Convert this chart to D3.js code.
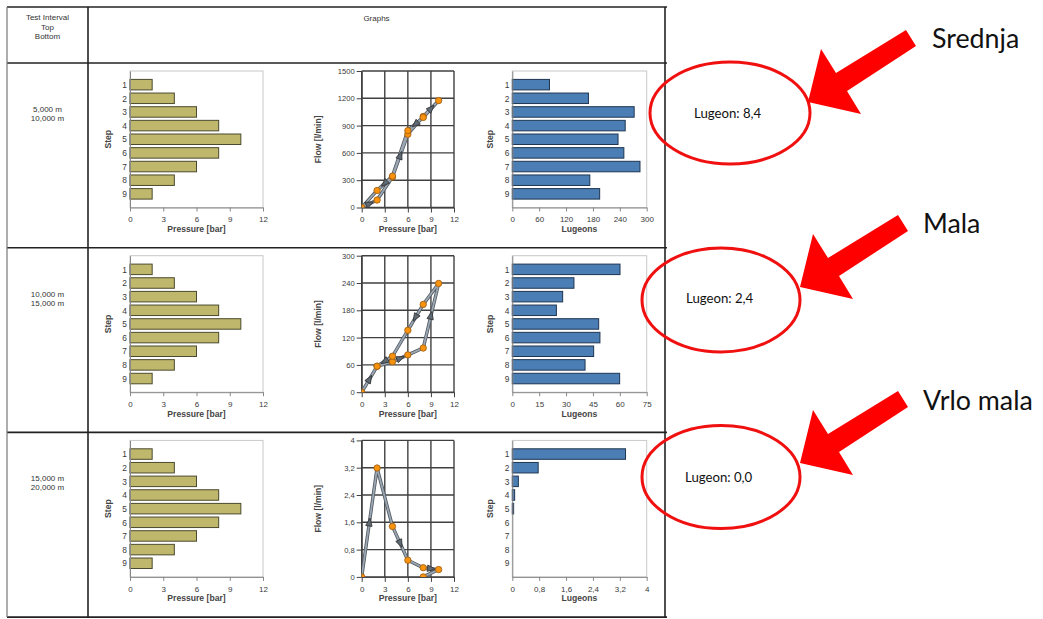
<!DOCTYPE html>
<html>
<head>
<meta charset="utf-8">
<script src="https://cdn.jsdelivr.net/npm/d3@7"></script>
<style>
  body { margin: 0; background: #fff; }
  svg { display: block; }
</style>
</head>
<body>
<script>
// ---- data ----
const steps = [1, 2, 3, 4, 5, 6, 7, 8, 9];
const pressure = [2, 4, 6, 8, 10, 8, 6, 4, 2];           // bar, per step
const pressureTicks = [0, 3, 6, 9, 12];

const headerLines = ["Test Interval", "Top", "Bottom"];
const headerGraphs = "Graphs";
const intervalTop = ["5,000 m", "10,000 m", "15,000 m"];
const intervalBottom = ["10,000 m", "15,000 m", "20,000 m"];

// flow [l/min] per step (null = step not run)
const flowA = [82, 335, 805, 1000, 1175, 990, 845, 345, 187];
const flowB = [57, 67, 82, 97, 239, 193, 136, 79, 57];
const flowC = [3.19, 1.48, 0.49, 0.27, 0.215, 0, null, null, null];
const flowTicksA = [0, 300, 600, 900, 1200, 1500];
const flowTicksB = [0, 60, 120, 180, 240, 300];
const flowTicksC = [0, 0.8, 1.6, 2.4, 3.2, 4];

// Lugeon value per step
const lugeonA = [83, 170, 272, 252, 236, 249, 285, 173, 195];
const lugeonB = [60.1, 34.4, 28.1, 24.6, 48.2, 48.9, 45.4, 40.6, 59.9];
const lugeonC = [3.37, 0.77, 0.18, 0.07, 0.04, null, null, null, null];
const lugeonTicksA = [0, 60, 120, 180, 240, 300];
const lugeonTicksB = [0, 15, 30, 45, 60, 75];
const lugeonTicksC = [0, 0.8, 1.6, 2.4, 3.2, 4];

const lugeonSummary = ["Lugeon: 8,4", "Lugeon: 2,4", "Lugeon: 0,0"];
const permeability = ["Srednja", "Mala", "Vrlo mala"];

const rows = [
  { top: intervalTop[0], bottom: intervalBottom[0], flow: flowA, flowTicks: flowTicksA, lugeon: lugeonA, lugeonTicks: lugeonTicksA, summary: lugeonSummary[0], rating: permeability[0] },
  { top: intervalTop[1], bottom: intervalBottom[1], flow: flowB, flowTicks: flowTicksB, lugeon: lugeonB, lugeonTicks: lugeonTicksB, summary: lugeonSummary[1], rating: permeability[1] },
  { top: intervalTop[2], bottom: intervalBottom[2], flow: flowC, flowTicks: flowTicksC, lugeon: lugeonC, lugeonTicks: lugeonTicksC, summary: lugeonSummary[2], rating: permeability[2] }
];

// ---- layout ----
const W = 1043, H = 619;
const table = { left: 7, divider: 88, right: 665, top: 7, header: 63, rowH: 184.7 };
const plotOffset = 8, plotH = 136.5;
const pressX = [130, 263], flowX = [361.7, 454], lugX = [512.3, 646.7];
const smallFont = "Liberation Sans, Arial, sans-serif";
const noteFont = "Lato, Open Sans, sans-serif";

const fmt = d3.formatLocale({ decimal: ",", thousands: ".", grouping: [3], currency: ["", ""] }).format("~g");

const svg = d3.select("body").append("svg").attr("width", W).attr("height", H);
svg.append("rect").attr("width", W).attr("height", H).attr("fill", "#fff");
const defs = svg.append("defs");

// ---- table frame ----
const frame = svg.append("g");
const rowLines = [table.top, table.header, table.header + table.rowH, table.header + 2 * table.rowH, table.header + 3 * table.rowH];
frame.selectAll("line.h").data(rowLines).join("line")
  .attr("x1", table.left).attr("x2", table.right + 2)
  .attr("y1", d => d).attr("y2", d => d)
  .attr("stroke", "#222").attr("stroke-width", 1.6);
frame.append("line").attr("x1", table.left).attr("x2", table.left)
  .attr("y1", table.top).attr("y2", rowLines[4]).attr("stroke", "#777").attr("stroke-width", 1.2);
[table.divider, table.right].forEach(x => {
  frame.append("line").attr("x1", x).attr("x2", x)
    .attr("y1", table.top).attr("y2", rowLines[4]).attr("stroke", "#222").attr("stroke-width", 1.6);
});

frame.selectAll("text.hdr").data(headerLines).join("text")
  .attr("x", (table.left + table.divider) / 2).attr("y", (d, i) => 20 + i * 9.5)
  .attr("text-anchor", "middle").attr("font-family", smallFont).attr("font-size", 8).attr("fill", "#333")
  .text(d => d);
frame.append("text").attr("x", (table.divider + table.right) / 2).attr("y", 21)
  .attr("text-anchor", "middle").attr("font-family", smallFont).attr("font-size", 8).attr("fill", "#333")
  .text(headerGraphs);

function styleAxis(g, color, size) {
  g.attr("font-family", smallFont).attr("font-size", size);
  g.selectAll("path.domain").attr("stroke", color);
  g.selectAll(".tick line").attr("stroke", color);
  g.selectAll(".tick text").attr("fill", "#3a3a3a");
}

function axisTitle(g, x, y, text, rotate) {
  const t = g.append("text").attr("font-family", smallFont).attr("font-size", 8.6)
    .attr("font-weight", "bold").attr("fill", "#444").attr("text-anchor", "middle").text(text);
  if (rotate) t.attr("transform", `translate(${x},${y}) rotate(-90)`).attr("dy", "0.35em");
  else t.attr("x", x).attr("y", y);
}

// horizontal bar chart by step
function stepBars(g, values, ticks, xr, top, bottom, fill, stroke, title) {
  const x = d3.scaleLinear().domain([0, ticks[ticks.length - 1]]).range(xr);
  const y = d3.scaleLinear().domain([0, 10]).range([top, bottom]);
  const barH = 10.5;
  // light frame
  g.append("rect").attr("x", xr[0]).attr("y", top).attr("width", xr[1] - xr[0]).attr("height", bottom - top)
    .attr("fill", "none").attr("stroke", "#c8c8c8").attr("stroke-width", 1);
  g.selectAll("rect.bar").data(steps.map((s, i) => ({ s, v: values[i] })).filter(d => d.v != null))
    .join("rect").attr("class", "bar")
    .attr("x", x(0)).attr("y", d => y(d.s) - barH / 2)
    .attr("width", d => x(d.v) - x(0)).attr("height", barH)
    .attr("fill", fill).attr("stroke", stroke).attr("stroke-width", 1);
  const ax = g.append("g").attr("transform", `translate(${xr[0]},0)`)
    .call(d3.axisLeft(y).tickValues(steps).tickSize(0).tickPadding(3).tickFormat(d3.format("d")));
  styleAxis(ax, "#888", 8.4);
  const bx = g.append("g").attr("transform", `translate(0,${bottom})`)
    .call(d3.axisBottom(x).tickValues(ticks).tickSize(4).tickSizeOuter(0).tickPadding(5).tickFormat(fmt));
  styleAxis(bx, "#888", 8);
  axisTitle(g, xr[0] - 22, (top + bottom) / 2, "Step", true);
  axisTitle(g, (xr[0] + xr[1]) / 2, bottom + 24.5, title, false);
}

// flow vs pressure loop
function flowLoop(g, flows, ticks, top, bottom, idx) {
  const x = d3.scaleLinear().domain([0, 12]).range(flowX);
  const y = d3.scaleLinear().domain([0, ticks[ticks.length - 1]]).range([bottom, top]);
  const gridColor = "#404040";
  g.selectAll("line.vg").data(pressureTicks).join("line")
    .attr("x1", d => x(d)).attr("x2", d => x(d)).attr("y1", top).attr("y2", bottom)
    .attr("stroke", gridColor).attr("stroke-width", 1.4);
  g.selectAll("line.hg").data(ticks).join("line")
    .attr("x1", flowX[0]).attr("x2", flowX[1]).attr("y1", d => y(d)).attr("y2", d => y(d))
    .attr("stroke", gridColor).attr("stroke-width", 1.4);
  const ax = g.append("g").attr("transform", `translate(${flowX[0]},0)`)
    .call(d3.axisLeft(y).tickValues(ticks).tickSize(5).tickSizeOuter(0).tickPadding(2).tickFormat(fmt));
  styleAxis(ax, gridColor, 7.6);
  const bx = g.append("g").attr("transform", `translate(0,${bottom})`)
    .call(d3.axisBottom(x).tickValues(pressureTicks).tickSize(5).tickSizeOuter(0).tickPadding(4).tickFormat(fmt));
  styleAxis(bx, gridColor, 8);
  axisTitle(g, flowX[0] - 43.5, (top + bottom) / 2, "Flow [l/min]", true);
  axisTitle(g, (flowX[0] + flowX[1]) / 2, bottom + 24.5, "Pressure [bar]", false);

  const clipId = "clipFlow" + idx;
  defs.append("clipPath").attr("id", clipId).append("rect")
    .attr("x", flowX[0]).attr("y", top).attr("width", flowX[1] - flowX[0]).attr("height", bottom - top);
  const inner = g.append("g").attr("clip-path", `url(#${clipId})`);

  // path: start at rest, run through the steps, return to rest when all steps were run
  const measured = steps.map((s, i) => ({ p: pressure[i], q: flows[i] })).filter(d => d.q != null);
  const path = [{ p: 0, q: 0 }, ...measured];
  if (flows[flows.length - 1] != null) path.push({ p: 0, q: 0 });
  const line = d3.line().x(d => x(d.p)).y(d => y(d.q));
  inner.append("path").attr("d", line(path)).attr("fill", "none")
    .attr("stroke", "#525960").attr("stroke-width", 3.4).attr("stroke-linejoin", "round");
  inner.append("path").attr("d", line(path)).attr("fill", "none")
    .attr("stroke", "#9aa6b2").attr("stroke-width", 1.8).attr("stroke-linejoin", "round");

  // direction arrows on every other segment
  const segs = d3.pairs(path).filter((d, i) => i % 2 === 0 && !(d[0].q === 0 && d[1].q === 0));
  inner.selectAll("path.dir").data(segs).join("path")
    .attr("d", "M4.5,0L-3.5,-3.2L-3.5,3.2Z")
    .attr("transform", d => {
      const x0 = x(d[0].p), y0 = y(d[0].q), x1 = x(d[1].p), y1 = y(d[1].q);
      const a = Math.atan2(y1 - y0, x1 - x0) * 180 / Math.PI;
      return `translate(${(x0 + x1) / 2},${(y0 + y1) / 2}) rotate(${a})`;
    })
    .attr("fill", "#5f6a75").attr("stroke", "#333").attr("stroke-width", 0.8);

  inner.selectAll("circle").data([{ p: 0, q: 0 }, ...measured]).join("circle")
    .attr("cx", d => x(d.p)).attr("cy", d => y(d.q)).attr("r", 3.2)
    .attr("fill", "#f7930f").attr("stroke", "#9a5a10").attr("stroke-width", 0.8);
}

// ---- rows ----
rows.forEach((r, i) => {
  const rowTop = table.header + i * table.rowH;
  const top = rowTop + plotOffset, bottom = top + plotH;
  const g = svg.append("g");

  g.selectAll("text.iv").data([r.top, r.bottom]).join("text")
    .attr("x", (table.left + table.divider) / 2).attr("y", (d, k) => rowTop + 49 + k * 9)
    .attr("text-anchor", "middle").attr("font-family", smallFont).attr("font-size", 8).attr("fill", "#333")
    .text(d => d);

  stepBars(g.append("g"), pressure, pressureTicks, pressX, top, bottom, "#bfb76c", "#4b4a2e", "Pressure [bar]");
  flowLoop(g.append("g"), r.flow, r.flowTicks, top, bottom, i);
  stepBars(g.append("g"), r.lugeon, r.lugeonTicks, lugX, top, bottom, "#4a7eb4", "#1f3550", "Lugeons");
});

// ---- annotations ----
const notes = [
  { cx: 730, cy: 113, rx: 80, ry: 51, tx: 694, ty: 118, ax: 808, ay: 102, lx: 932, ly: 48 },
  { cx: 721, cy: 300, rx: 79, ry: 52, tx: 686, ty: 303, ax: 800, ay: 287, lx: 923, ly: 233 },
  { cx: 721, cy: 477, rx: 79, ry: 51.5, tx: 685, ty: 482, ax: 800, ay: 463, lx: 923, ly: 410 }
];
const arrowShape = [[0, 0], [13, -53], [28, -29], [98, -72], [108, -56], [39, -11], [53, 12]];
const ann = svg.append("g");
notes.forEach((n, i) => {
  ann.append("ellipse").attr("cx", n.cx).attr("cy", n.cy).attr("rx", n.rx).attr("ry", n.ry)
    .attr("fill", "none").attr("stroke", "#f01010").attr("stroke-width", 3);
  ann.append("text").attr("x", n.tx).attr("y", n.ty).attr("font-family", noteFont)
    .attr("font-size", 13.2).attr("fill", "#111").text(rows[i].summary);
  ann.append("path").attr("d", d3.line()(arrowShape.map(p => [n.ax + p[0], n.ay + p[1]])) + "Z")
    .attr("fill", "#ff0000");
  ann.append("text").attr("x", n.lx).attr("y", n.ly).attr("font-family", noteFont)
    .attr("font-size", 26.8).attr("fill", "#111").text(rows[i].rating);
});
</script>
</body>
</html>
